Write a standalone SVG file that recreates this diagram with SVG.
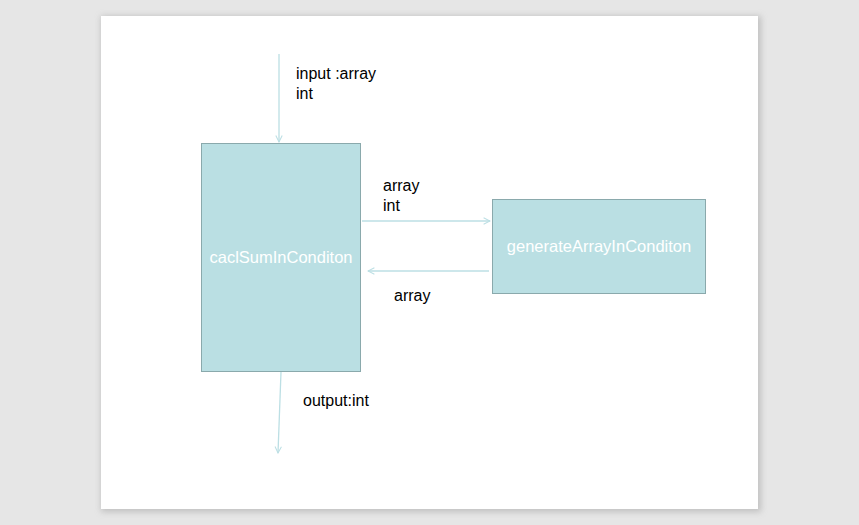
<svg xmlns="http://www.w3.org/2000/svg" width="859" height="525" viewBox="0 0 859 525">
<defs>
<style>
.lbl{font-family:"Liberation Sans",Arial,sans-serif;font-size:16px;fill:#000}
.nlbl{font-family:"Liberation Sans",Arial,sans-serif;font-size:16.5px;fill:#fff;text-anchor:middle}
.box{fill:#badfe3;stroke:#8aa9ac;stroke-width:1}
.conn{stroke:#bcdfe4;stroke-width:1.3;fill:none}
</style>
<marker id="arr" viewBox="0 0 10 10" refX="9" refY="5" markerWidth="8" markerHeight="8" orient="auto" markerUnits="userSpaceOnUse">
<path d="M1,1 L9,5 L1,9" fill="none" stroke="#bcdfe4" stroke-width="1.3"/>
</marker>
<filter id="sh" x="-5%" y="-5%" width="110%" height="110%">
<feGaussianBlur stdDeviation="3"/>
</filter>
</defs>
<rect x="0" y="0" width="859" height="525" fill="#e6e6e6"/>
<rect x="101" y="16" width="660" height="496" fill="#b0b0b0" filter="url(#sh)" opacity="0.7"/>
<rect x="101" y="16" width="657" height="493" fill="#fff"/>
<g id="connectors">
<line class="conn" x1="279" y1="54" x2="279" y2="142" marker-end="url(#arr)"/>
<line class="conn" x1="281" y1="372" x2="278" y2="453" marker-end="url(#arr)"/>
<line class="conn" x1="362" y1="221" x2="490" y2="221" marker-end="url(#arr)"/>
<line class="conn" x1="489" y1="271" x2="368" y2="271" marker-end="url(#arr)"/>
<text class="lbl" x="296" y="79">input :array</text>
<text class="lbl" x="296" y="99">int</text>
<text class="lbl" x="383" y="191">array</text>
<text class="lbl" x="383" y="211">int</text>
<text class="lbl" x="394" y="301">array</text>
<text class="lbl" x="303" y="406">output:int</text>
</g>
<g id="caclSumInConditon">
<rect class="box" x="201.5" y="143.5" width="159" height="228"/>
<text class="nlbl" x="281" y="263">caclSumInConditon</text>
</g>
<g id="generateArrayInConditon">
<rect class="box" x="492.5" y="199.5" width="213" height="94"/>
<text class="nlbl" x="599" y="252">generateArrayInConditon</text>
</g>
</svg>
